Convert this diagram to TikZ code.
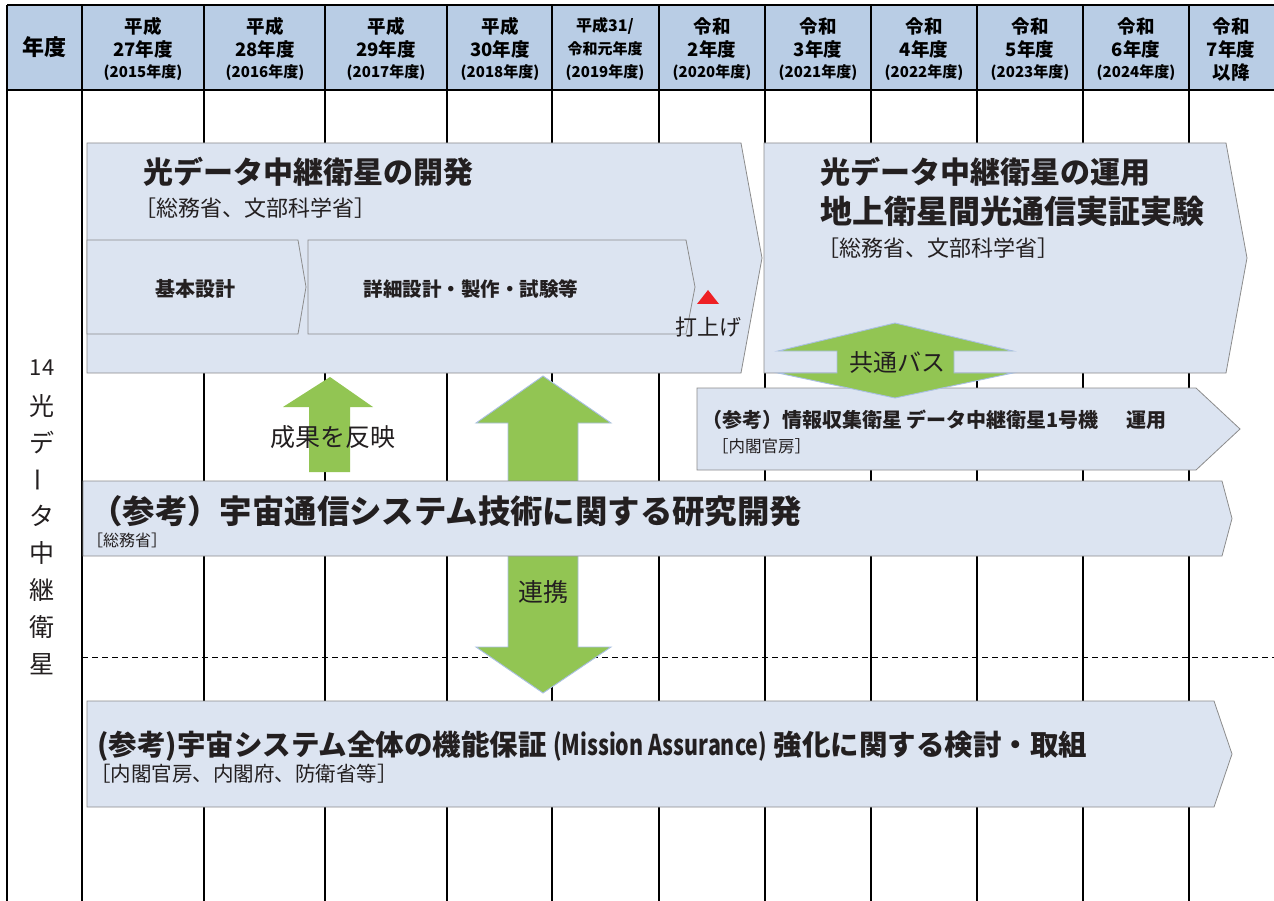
\documentclass[tikz,border=0pt]{standalone}
\usepackage{fontspec}
\usepackage{graphicx}
\setmainfont{Noto Sans CJK JP}
\definecolor{hdr}{HTML}{B9CDE5}
\definecolor{chev}{HTML}{DCE4F1}
\definecolor{chevline}{HTML}{8C8C8C}
\definecolor{grn}{HTML}{92C553}
\definecolor{grnline}{HTML}{A9BFE3}
\definecolor{redtri}{HTML}{EE2024}
\definecolor{txt}{HTML}{231F20}
\newcommand\fs[1]{\fontsize{#1}{#1}\selectfont}
\newcommand\mychevron[5]{% l, t, b, shoulder, tip
  \path[chevshape] (#1,#2) -- (#4,#2) -- (#5,{(#2+#3)/2}) -- (#4,#3) -- (#1,#3) -- cycle;}
\begin{document}
\begin{tikzpicture}[x=1pt,y=-1pt,
  chevshape/.style={fill=chev,draw=chevline,line width=0.8pt},
  gridline/.style={line width=1.3pt,black},
  greenarrow/.style={fill=grn,draw=grnline,line width=0.9pt},
  lbl/.style={inner sep=0pt,anchor=west,text=txt},
  ctr/.style={inner sep=0pt,text=txt},
  hd/.style={inner sep=0pt,text=black,font=\bfseries\fs{18.5}},
  hds/.style={inner sep=0pt,text=black,font=\bfseries\fs{15}}]
\useasboundingbox (0,0) rectangle (1274,901);
\fill[white] (0,0) rectangle (1274,901);
\fill[hdr] (7,5) rectangle (1274,90);
% grid
\foreach \x in {7,82,204,325,447,552,659,765,871,977,1083,1189}
  \draw[gridline] (\x,5) -- (\x,901);
\draw[gridline] (7,5) -- (1274,5);
\draw[gridline] (7,90) -- (1274,90);
\draw[black,line width=1pt,dash pattern=on 6pt off 4pt] (82,657) -- (1274,657);
% header
\node[inner sep=0pt,font=\bfseries\fs{22}] (h0) at (44,47) {年度};
\foreach \c/\x/\a/\b/\y in {1/143/平成/27/2015,2/265/平成/28/2016,3/386/平成/29/2017,4/500/平成/30/2018,
  6/712/令和/2/2020,7/818/令和/3/2021,8/924/令和/4/2022,9/1030/令和/5/2023,10/1136/令和/6/2024}{
  \node[hd] (h\c a) at (\x,26) {\a};
  \node[hd] (h\c b) at (\x,49) {\b 年度};
  \node[hds] (h\c c) at (\x,73) {(\y 年度)};
}
\node[hd,font=\bfseries\fs{16}] (h5a) at (605,26) {平成31/};
\node[hd,font=\bfseries\fs{15}] (h5b) at (605,49) {令和元年度};
\node[hds] (h5c) at (605,73) {(2019年度)};
\node[hd] (h11a) at (1231,26) {令和};
\node[hd] (h11b) at (1231,49) {7年度};
\node[hd] (h11c) at (1231,73) {以降};
% left vertical label
\node[ctr,font=\fs{22}] (v0) at (42,368) {14};
\foreach \i/\ch/\y in {1/光/406,2/デ/443,3/{\rotatebox[origin=c]{90}{ー}}/480,4/タ/516,5/中/553,6/継/590,7/衛/627,8/星/664}
  \node[ctr,font=\fs{25}] (v\i) at (42,\y) {\ch};
% green arrows behind bands
\path[greenarrow] (543,376) -- (611,423) -- (578,423) -- (578,647) -- (611,647) -- (543,693)
  -- (476,647) -- (508,647) -- (508,423) -- (476,423) -- cycle;
\path[fill=grn] (330,377) -- (373,407) -- (350,407) -- (350,472) -- (309,472) -- (309,407) -- (283,407) -- cycle;
% chevrons
\mychevron{87}{143}{373}{741}{762}
\mychevron{87}{240}{334}{298}{306}
\mychevron{308}{240}{334}{686}{695}
\mychevron{764}{143}{373}{1226}{1247}
\mychevron{697}{388}{470}{1196}{1240}
\mychevron{83}{481}{556}{1222}{1232}
\mychevron{87}{701}{807}{1214}{1232}
% common bus arrow
\path[greenarrow] (895,323) -- (1013,351) -- (954,351) -- (954,373) -- (1013,373) -- (895,398)
  -- (778,373) -- (837,373) -- (837,351) -- (778,351) -- cycle;
% red triangle
\fill[redtri] (697,304) -- (719,304) -- (708,290) -- cycle;
% texts
\node[lbl,font=\bfseries\fs{30}] (t1) at (143,172) {光データ中継衛星の開発};
\node[lbl,font=\fs{22}] (t1s) at (134,208) {［総務省、文部科学省］};
\node[ctr,font=\bfseries\fs{20}] (b1) at (195,289) {基本設計};
\node[ctr,font=\bfseries\fs{19.5}] (b2) at (471,289) {詳細設計・製作・試験等};
\node[ctr,font=\fs{22}] (launch) at (708,327) {打上げ};
\node[lbl,font=\bfseries\fs{30}] (t2) at (820,172) {光データ中継衛星の運用};
\node[lbl,font=\bfseries\fs{32}] (t2b) at (820,211) {地上衛星間光通信実証実験};
\node[lbl,font=\fs{22}] (t2s) at (817,248) {［総務省、文部科学省］};
\node[ctr,font=\fs{24}] (bus) at (897,362) {共通バス};
\node[lbl,font=\bfseries\fs{20}] (t4) at (702,420) {（参考）情報収集衛星 データ中継衛星1号機\hspace{1.4em}運用};
\node[lbl,font=\fs{16.5}] (t4s) at (712,446) {［内閣官房］};
\node[ctr,font=\fs{25}] (refl) at (333,437) {成果を反映};
\node[ctr,font=\fs{25}] (coop) at (543,592) {連携};
\node[lbl,font=\bfseries\fs{32.4}] (t5) at (90,511) {（参考）宇宙通信システム技術に関する研究開発};
\node[lbl,font=\fs{16}] (t5s) at (87,540) {［総務省］};
\node[lbl,font=\bfseries\fs{28.5}] (t6) at (97,746) {(参考)宇宙システム全体の機能保証 \scalebox{0.75}[1]{(Mission Assurance)} 強化に関する検討・取組};
\node[lbl,font=\fs{20.5}] (t6s) at (90,774) {［内閣官房、内閣府、防衛省等］};
\end{tikzpicture}
\end{document}
